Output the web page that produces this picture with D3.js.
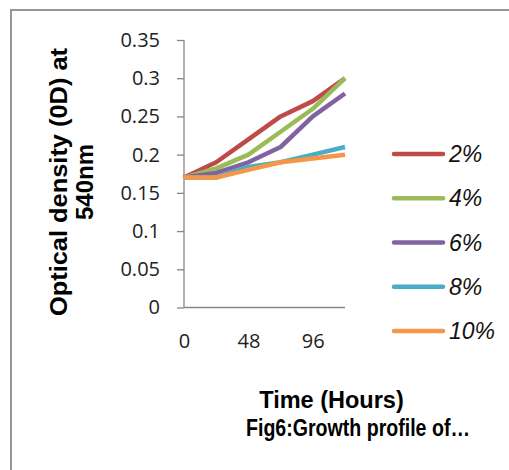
<!DOCTYPE html>
<html><head><meta charset="utf-8">
<script src="https://cdn.jsdelivr.net/npm/d3@7"></script>
<style>body{margin:0;background:#fff}svg{display:block}</style>
</head><body>
<svg id="c" width="509" height="470"></svg>
<script>
const hours = [0, 24, 48, 72, 96, 120];
const xTickLabels = [0, 48, 96];
const seriesNames = ["2%", "4%", "6%", "8%", "10%"];
const s2 = [0.17, 0.19, 0.22, 0.25, 0.27, 0.30];
const s4 = [0.17, 0.182, 0.20, 0.23, 0.26, 0.30];
const s6 = [0.17, 0.176, 0.19, 0.21, 0.25, 0.28];
const s8 = [0.17, 0.17, 0.184, 0.19, 0.20, 0.21];
const s10 = [0.17, 0.17, 0.18, 0.19, 0.195, 0.20];
const yTicks = [0, 0.05, 0.1, 0.15, 0.2, 0.25, 0.3, 0.35];
const colors = ["#BE4B48", "#9BBB59", "#8064A2", "#4BACC6", "#F79646"];
const seriesValues = [s2, s4, s6, s8, s10];

const svg = d3.select("#c");
// outer frame
svg.append("rect").attr("x", 11).attr("y", 10).attr("width", 560).attr("height", 520)
  .attr("fill", "none").attr("stroke", "#969696").attr("stroke-width", 2);

const x = d3.scalePoint().domain(hours).range([184, 345]);
const y = d3.scaleLinear().domain([0, 0.35]).range([307.5, 40]);
const axisColor = "#868686";

// Y axis
const yAxis = svg.append("g").attr("transform", "translate(184,0)")
  .call(d3.axisLeft(y).tickValues(yTicks).tickSize(7).tickPadding(17)
    .tickFormat(d => d3.format("")(+d.toFixed(2))));
yAxis.select(".domain").attr("stroke", axisColor).attr("stroke-width", 1.3).attr("d", "M0,40V307.5");
yAxis.selectAll(".tick line").attr("stroke", axisColor).attr("stroke-width", 1.3);
yAxis.selectAll(".tick text").attr("font-family", "Open Sans").attr("font-size", 20).attr("fill", "#222");

// X axis
const xAxis = svg.append("g").attr("transform", "translate(0,307.5)")
  .call(d3.axisBottom(x).tickValues(xTickLabels).tickSize(0).tickPadding(26));
xAxis.select(".domain").attr("stroke", axisColor).attr("stroke-width", 1.3).attr("d", "M184,0H345");
xAxis.selectAll(".tick text").attr("font-family", "Open Sans").attr("font-size", 20).attr("fill", "#222");

// Lines
const line = d3.line().x((d, i) => x(hours[i])).y(d => y(d));
seriesValues.forEach((vals, k) => {
  svg.append("path").datum(vals).attr("d", line).attr("fill", "none")
    .attr("stroke", colors[k]).attr("stroke-width", 4.5)
    .attr("stroke-linejoin", "round").attr("stroke-linecap", "butt");
});

// Legend
const legY = d3.scalePoint().domain(seriesNames).range([154, 331]);
seriesNames.forEach((n, k) => {
  const ly = legY(n);
  svg.append("line").attr("x1", 394).attr("x2", 443).attr("y1", ly).attr("y2", ly)
    .attr("stroke", colors[k]).attr("stroke-width", 4.5).attr("stroke-linecap", "round");
  svg.append("text").attr("x", 449).attr("y", ly + 8).text(n)
    .attr("font-family", "Liberation Sans, Arial").attr("font-style", "italic")
    .attr("font-size", 23).attr("fill", "#111");
});

// Y title
const yt = svg.append("g").attr("transform", "translate(67,182) rotate(-90)");
yt.append("text").attr("text-anchor", "middle").attr("x", 0).attr("y", 0)
  .attr("font-family", "Liberation Sans, Arial").attr("font-weight", "bold").attr("font-size", 24)
  .attr("textLength", 268).attr("lengthAdjust", "spacingAndGlyphs")
  .text("Optical density (0D) at");
yt.append("text").attr("text-anchor", "middle").attr("x", 0).attr("y", 26)
  .attr("font-family", "Liberation Sans, Arial").attr("font-weight", "bold").attr("font-size", 24)
  .text("540nm");

// X title and caption
svg.append("text").attr("x", 331.5).attr("y", 407.5).attr("text-anchor", "middle")
  .attr("font-family", "Liberation Sans, Arial").attr("font-weight", "bold").attr("font-size", 23.5)
  .text("Time (Hours)");
svg.append("text").attr("x", 358).attr("y", 436).attr("text-anchor", "middle")
  .attr("font-family", "Liberation Sans, Arial").attr("font-weight", "bold").attr("font-size", 23)
  .attr("textLength", 224).attr("lengthAdjust", "spacingAndGlyphs")
  .text("Fig6:Growth profile of…");
</script>
</body></html>
